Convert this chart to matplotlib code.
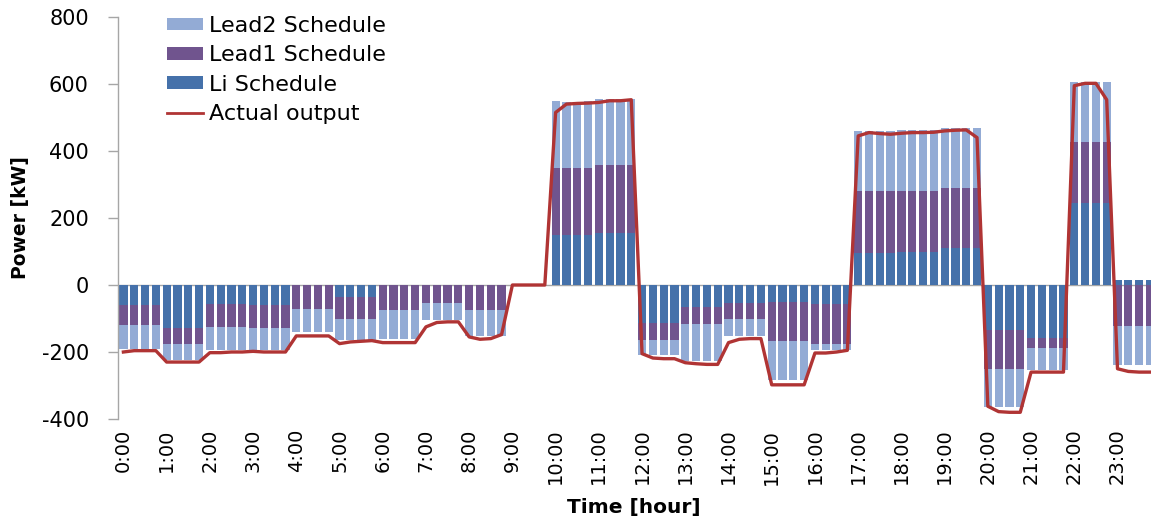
import matplotlib
matplotlib.use("Agg")
import matplotlib.pyplot as plt
import numpy as np
from matplotlib.patches import Patch
from matplotlib.lines import Line2D

plt.rcParams['font.family'] = ['DejaVu Sans']
plt.rcParams['axes.unicode_minus'] = False

# 15-minute slots over one day
slots = list(range(96))
hour_ticks = list(range(0, 96, 4))
hour_labels = [f"{h}:00" for h in range(24)]

li_schedule = [
    -60, -60, -60, -60, -127, -127, -127, -127,
    -58, -58, -58, -58, -60, -60, -60, -60,
    0, 0, 0, 0, -37, -37, -37, -37,
    0, 0, 0, 0, 0, 0, 0, 0,
    0, 0, 0, 0, 0, 0, 0, 0,
    148, 148, 148, 148, 155, 155, 155, 155,
    -112, -112, -112, -112, -67, -67, -67, -67,
    -55, -55, -55, -55, -50, -50, -50, -50,
    -57, -57, -57, -57, 95, 95, 95, 95,
    100, 100, 100, 100, 110, 110, 110, 110,
    -135, -135, -135, -135, -157, -157, -157, -157,
    245, 245, 245, 245, 15, 15, 15, 15,
]
lead1_schedule = [
    -60, -60, -60, -60, -48, -48, -48, -48,
    -67, -67, -67, -67, -67, -67, -67, -67,
    -72, -72, -72, -72, -65, -65, -65, -65,
    -75, -75, -75, -75, -53, -53, -53, -53,
    -75, -75, -75, -75, 0, 0, 0, 0,
    200, 200, 200, 200, 202, 202, 202, 202,
    -51, -51, -51, -51, -48, -48, -48, -48,
    -47, -47, -47, -47, -117, -117, -117, -117,
    -118, -118, -118, -118, 185, 185, 185, 185,
    180, 180, 180, 180, 180, 180, 180, 180,
    -115, -115, -115, -115, -30, -30, -30, -30,
    183, 183, 183, 183, -123, -123, -123, -123,
]
lead2_schedule = [
    -70, -70, -70, -70, -48, -48, -48, -48,
    -68, -68, -68, -68, -66, -66, -66, -66,
    -68, -68, -68, -68, -61, -61, -61, -61,
    -86, -86, -86, -86, -50, -50, -50, -50,
    -78, -78, -78, -78, 0, 0, 0, 0,
    200, 198, 198, 200, 198, 198, 198, 198,
    -47, -47, -47, -47, -113, -113, -113, -113,
    -51, -51, -51, -51, -116, -116, -116, -116,
    -18, -18, -18, -18, 180, 180, 180, 180,
    183, 183, 183, 183, 178, 178, 178, 178,
    -113, -113, -113, -113, -68, -68, -68, -68,
    177, 177, 177, 177, -117, -117, -117, -117,
]
actual_output = [
    -200, -196, -196, -196, -230, -230, -230, -230,
    -202, -202, -200, -200, -198, -200, -200, -200,
    -152, -152, -152, -152, -175, -170, -168, -166,
    -172, -172, -172, -172, -125, -112, -110, -110,
    -155, -162, -160, -148, 0, 0, 0, 0,
    515, 540, 542, 543, 545, 550, 550, 553,
    -205, -218, -220, -220, -232, -235, -237, -237,
    -172, -162, -160, -160, -298, -298, -298, -298,
    -203, -203, -200, -195, 445, 455, 452, 450,
    453, 455, 455, 456, 460, 462, 463, 440,
    -362, -378, -380, -380, -260, -260, -260, -260,
    595, 602, 602, 553, -250, -258, -260, -260,
]

LI_COLOR = '#4571AA'
LEAD1_COLOR = '#70548E'
LEAD2_COLOR = '#93ABD5'
LINE_COLOR = '#B03434'
AXIS_GRAY = '#A6A6A6'

fig = plt.figure(figsize=(11.51, 5.18), dpi=100)
ax = fig.add_axes([118 / 1151, 99 / 518, 1033 / 1151, 402 / 518])

x = np.array(slots)
pos_base = np.zeros(len(x))
neg_base = np.zeros(len(x))
for values, color in [(li_schedule, LI_COLOR),
                      (lead1_schedule, LEAD1_COLOR),
                      (lead2_schedule, LEAD2_COLOR)]:
    v = np.array(values, dtype=float)
    bottom = np.where(v >= 0, pos_base, neg_base)
    ax.bar(x, v, width=0.76, bottom=bottom, color=color, linewidth=0,
           zorder=2)
    pos_base = pos_base + np.clip(v, 0, None)
    neg_base = neg_base + np.clip(v, None, 0)

ax.plot(x, actual_output, color=LINE_COLOR, lw=2.4, zorder=3,
        solid_joinstyle='round')

ax.axhline(0, color=AXIS_GRAY, lw=1.0, zorder=1)

ax.set_xlim(-0.5, 95.1)
ax.set_ylim(-400, 800)
ax.set_yticks(range(-400, 801, 200))
ax.set_xticks(hour_ticks)
ax.set_xticklabels(hour_labels, rotation=90, fontsize=14)
ax.tick_params(axis='x', length=0, pad=7)
ax.tick_params(axis='y', length=7, width=1, color=AXIS_GRAY,
               labelsize=15, pad=14)

for side in ['top', 'right', 'bottom']:
    ax.spines[side].set_visible(False)
ax.spines['left'].set_color(AXIS_GRAY)
ax.spines['left'].set_linewidth(1.0)

ax.set_ylabel('Power [kW]', fontsize=13.5, fontweight='bold', labelpad=8)
fig.text(634 / 1151, 1 - 507 / 518, 'Time [hour]', fontsize=14.5,
         fontweight='bold', ha='center', va='center')

handles = [
    Patch(facecolor=LEAD2_COLOR, label='Lead2 Schedule'),
    Patch(facecolor=LEAD1_COLOR, label='Lead1 Schedule'),
    Patch(facecolor=LI_COLOR, label='Li Schedule'),
    Line2D([0], [0], color=LINE_COLOR, lw=2, label='Actual output'),
]
ax.legend(handles=handles, loc='upper left',
          bbox_to_anchor=(167 / 1151, 1 - 16 / 518),
          bbox_transform=fig.transFigure, frameon=False,
          fontsize=16, handlelength=1.62, handleheight=0.5,
          handletextpad=0.27, labelspacing=0.42, borderaxespad=0,
          borderpad=0)

fig.savefig('out.png', dpi=100)
